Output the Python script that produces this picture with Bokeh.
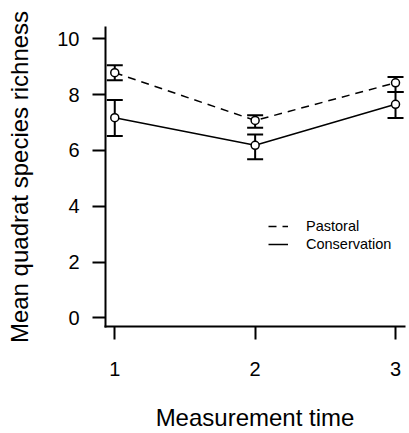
from bokeh.plotting import figure
from bokeh.models import (Range1d, FixedTicker, Whisker, TeeHead, ColumnDataSource,
                          Legend, LegendItem)
from bokeh.embed import file_html
from bokeh.resources import INLINE

# ---- data ----
times = [1, 2, 3]
time_labels = {1: "1", 2: "2", 3: "3"}
y_ticks = [0, 2, 4, 6, 8, 10]

pastoral_mean = [8.78, 7.07, 8.42]
pastoral_lower = [8.51, 6.81, 8.09]
pastoral_upper = [9.05, 7.26, 8.63]

conservation_mean = [7.17, 6.18, 7.65]
conservation_lower = [6.51, 5.68, 7.16]
conservation_upper = [7.80, 6.57, 8.09]

FONT = "Liberation Sans"

p = figure(width=409, height=433, output_backend="svg", toolbar_location=None,
           x_range=Range1d(0.934, 3.064), y_range=Range1d(-0.31, 10.40),
           min_border_left=105, min_border_right=5, min_border_top=27,
           min_border_bottom=106)
p.outline_line_color = None
p.xgrid.visible = False
p.ygrid.visible = False
p.background_fill_color = "white"
p.border_fill_color = "white"

for ax in (p.xaxis[0], p.yaxis[0]):
    ax.axis_line_width = 2
    ax.axis_line_cap = "square"
    ax.major_tick_line_width = 2
    ax.major_tick_in = 0
    ax.major_tick_out = 13
    ax.minor_tick_line_color = None
    ax.major_label_text_font = FONT
    ax.major_label_text_font_size = "20px"
    ax.major_label_text_color = "black"
    ax.axis_label_text_font = FONT
    ax.axis_label_text_font_size = "24px"
    ax.axis_label_text_font_style = "normal"
    ax.axis_label_text_color = "black"
    ax.axis_line_color = "black"
    ax.major_tick_line_color = "black"

p.xaxis.ticker = FixedTicker(ticks=times)
p.xaxis.major_label_overrides = time_labels
p.xaxis.major_label_standoff = 22
p.xaxis.axis_label = "Measurement time"
p.xaxis.axis_label_standoff = 25

p.yaxis.ticker = FixedTicker(ticks=y_ticks)
p.yaxis.major_label_standoff = 13
p.yaxis.axis_label = "Mean quadrat species richness"
p.yaxis.axis_label_standoff = 21

series = [
    ("Pastoral", pastoral_mean, pastoral_lower, pastoral_upper, "8 6"),
    ("Conservation", conservation_mean, conservation_lower, conservation_upper, "solid"),
]

items = []
for name, mean, lower, upper, dash in series:
    src = ColumnDataSource(dict(x=times, y=mean, lower=lower, upper=upper))
    ln = p.line("x", "y", source=src, line_color="black", line_width=1.5, line_dash=dash)
    items.append(LegendItem(label=name, renderers=[ln]))
    p.scatter("x", "y", source=src, size=8, fill_color="white", line_color=None)
    w = Whisker(base="x", lower="lower", upper="upper", source=src,
                line_color="black", line_width=2,
                upper_head=TeeHead(size=16, line_width=2, line_color="black"),
                lower_head=TeeHead(size=16, line_width=2, line_color="black"))
    p.add_layout(w)
    c = p.scatter("x", "y", source=src, size=8, fill_color=None,
                  line_color="black", line_width=1.5)
    c.level = "overlay"

legend = Legend(items=items, location=(163, 73), border_line_color=None,
                background_fill_alpha=0, padding=0, margin=0, spacing=0,
                glyph_width=20, glyph_height=18, label_height=18,
                label_standoff=18, label_text_font=FONT,
                label_text_font_size="14.5px", label_text_color="black")
p.add_layout(legend)

open("out.html", "w").write(file_html(p, INLINE))
